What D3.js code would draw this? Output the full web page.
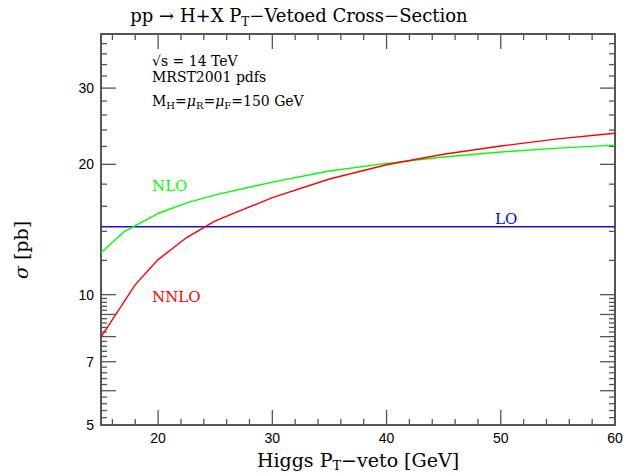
<!DOCTYPE html>
<html>
<head>
<meta charset="utf-8">
<script src="https://cdn.jsdelivr.net/npm/d3@7"></script>
<style>
  body { margin: 0; background: #fff; }
  text { font-family: "DejaVu Serif", serif; }
  .num { font-family: "Liberation Sans", Arial, sans-serif; }
</style>
</head>
<body>
<script>
// data
var ptVeto_NLO = [15, 17, 20, 22.5, 25, 30, 35, 40, 45, 50, 55, 60];
var sigma_NLO  = [12.49, 13.97, 15.4, 16.3, 17.0, 18.2, 19.3, 20.1, 20.8, 21.35, 21.8, 22.15];
var ptVeto_NNLO = [15, 18, 20, 22.5, 25, 30, 35, 40, 45, 50, 55, 60];
var sigma_NNLO  = [7.98, 10.55, 12.05, 13.55, 14.8, 16.75, 18.5, 19.95, 21.1, 22.05, 22.9, 23.6];
var sigma_LO = 14.35;
var xTickLabels = [20, 30, 40, 50, 60];
var yTickLabels = [5, 7, 10, 20, 30];

var W = 623, H = 474;
var xL = 101, xR = 615, yT = 34, yB = 425;

var svg = d3.select("body").append("svg")
  .attr("width", W)
  .attr("height", H);

var x = d3.scaleLinear().domain([15, 60]).range([xL, xR]);
var y = d3.scaleLog().domain([5, 40]).range([yB, yT]);

var axisCol = "#555";

// minor/major ticks
var xMinor = d3.range(16, 60, 2).filter(function(v){ return v % 10 != 0; });
var xMajor = [20, 30, 40, 50];
var yMinor = d3.range(5.2, 10, 0.2).filter(function(v){ return Math.abs(v - Math.round(v)) > 0.01; })
  .concat([12, 14, 16, 18, 22, 24, 26, 28, 32, 34, 36, 38]);
var yMajor = [6, 7, 8, 9, 10, 20, 30];
var longT = 15, shortT = 6;

var g = svg.append("g");

function xTicks(vals, len) {
  vals.forEach(function(v){
    g.append("line").attr("x1", x(v)).attr("x2", x(v)).attr("y1", yB).attr("y2", yB - len)
      .attr("stroke", axisCol).attr("stroke-width", 1.3);
    g.append("line").attr("x1", x(v)).attr("x2", x(v)).attr("y1", yT).attr("y2", yT + len)
      .attr("stroke", axisCol).attr("stroke-width", 1.3);
  });
}
function yTicks(vals, len) {
  vals.forEach(function(v){
    g.append("line").attr("x1", xL).attr("x2", xL + len).attr("y1", y(v)).attr("y2", y(v))
      .attr("stroke", axisCol).attr("stroke-width", 1.3);
    g.append("line").attr("x1", xR).attr("x2", xR - len).attr("y1", y(v)).attr("y2", y(v))
      .attr("stroke", axisCol).attr("stroke-width", 1.3);
  });
}
xTicks(xMinor, shortT);
xTicks(xMajor, longT);
yTicks(yMinor, shortT);
yTicks(yMajor, longT);

// frame
g.append("rect")
  .attr("x", xL).attr("y", yT)
  .attr("width", xR - xL).attr("height", yB - yT)
  .attr("fill", "none").attr("stroke", axisCol).attr("stroke-width", 2);

// tick labels
g.selectAll(".xl").data(xTickLabels).enter().append("text")
  .attr("class", "num")
  .attr("x", function(d){ return x(d); })
  .attr("y", 443)
  .attr("text-anchor", "middle")
  .attr("font-size", 14)
  .text(function(d){ return d; });

g.selectAll(".yl").data(yTickLabels).enter().append("text")
  .attr("class", "num")
  .attr("x", 94)
  .attr("y", function(d){ return y(d) + 5; })
  .attr("text-anchor", "end")
  .attr("font-size", 14)
  .text(function(d){ return d; });

// curves
var line = d3.line()
  .x(function(d){ return x(d[0]); })
  .y(function(d){ return y(d[1]); });

svg.append("line")
  .attr("x1", x(15)).attr("x2", x(60))
  .attr("y1", y(sigma_LO)).attr("y2", y(sigma_LO))
  .attr("stroke", "#1010e0").attr("stroke-width", 1.3);

svg.append("path")
  .datum(d3.zip(ptVeto_NLO, sigma_NLO))
  .attr("d", line)
  .attr("fill", "none").attr("stroke", "#00ff00").attr("stroke-width", 1.4);

svg.append("path")
  .datum(d3.zip(ptVeto_NNLO, sigma_NNLO))
  .attr("d", line)
  .attr("fill", "none").attr("stroke", "#ff0000").attr("stroke-width", 1.4);

// curve labels
svg.append("text").attr("x", 152).attr("y", 191).attr("font-size", 15).attr("fill", "#00ff00").text("NLO");
svg.append("text").attr("x", 152).attr("y", 302).attr("font-size", 15).attr("fill", "#ff0000").text("NNLO");
svg.append("text").attr("x", 495).attr("y", 224).attr("font-size", 15).attr("fill", "#0000ff").text("LO");

// annotations
svg.append("text").attr("x", 152).attr("y", 66).attr("font-size", 14).text("\u221As = 14 TeV");
svg.append("text").attr("x", 152).attr("y", 82).attr("font-size", 14).text("MRST2001 pdfs");
var m = svg.append("text").attr("x", 152).attr("y", 106).attr("font-size", 14);
m.append("tspan").text("M");
m.append("tspan").attr("font-size", 10).attr("dy", 3).text("H");
m.append("tspan").attr("dy", -3).text("=");
m.append("tspan").attr("font-style", "italic").text("\u03BC");
m.append("tspan").attr("font-size", 10).attr("dy", 3).text("R");
m.append("tspan").attr("dy", -3).text("=");
m.append("tspan").attr("font-style", "italic").text("\u03BC");
m.append("tspan").attr("font-size", 10).attr("dy", 3).text("F");
m.append("tspan").attr("dy", -3).text("=150 GeV");

// title
var t = svg.append("text").attr("x", 299).attr("y", 22).attr("text-anchor", "middle").attr("font-size", 18);
t.append("tspan").text("pp \u2192 H+X P");
t.append("tspan").attr("font-size", 12).attr("dy", 4).text("T");
t.append("tspan").attr("dy", -4).text("\u2212Vetoed Cross\u2212Section");

// axis titles
var xt = svg.append("text").attr("x", 358).attr("y", 467).attr("text-anchor", "middle").attr("font-size", 19);
xt.append("tspan").text("Higgs P");
xt.append("tspan").attr("font-size", 13).attr("dy", 3).text("T");
xt.append("tspan").attr("dy", -3).text("\u2212veto [GeV]");

svg.append("text")
  .attr("transform", "translate(28,250) rotate(-90)")
  .attr("text-anchor", "middle")
  .attr("font-size", 19)
  .html('<tspan font-style="italic">\u03C3</tspan> [pb]');
</script>
</body>
</html>
